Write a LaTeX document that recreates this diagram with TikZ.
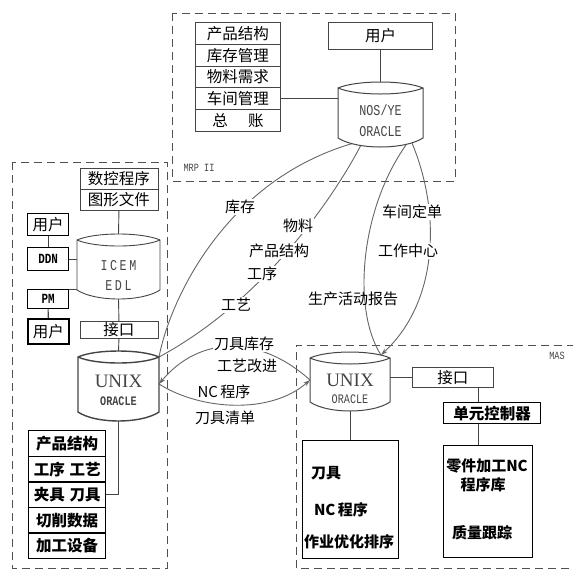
\documentclass[tikz,border=0pt]{standalone}
\usepackage{fontspec}
\setmainfont{Noto Sans CJK SC}
\newfontfamily\monon[FakeStretch=0.78]{Liberation Mono}
\newfontfamily\serifl{Liberation Serif}
\usetikzlibrary{arrows.meta}
\definecolor{ln}{HTML}{454545}
\definecolor{cv}{HTML}{666666}
\definecolor{dsh}{HTML}{505050}
\tikzset{
  cell/.style={draw=ln, line width=0.9pt, inner sep=0pt, anchor=north west, font=\fontsize{15.5}{16}\selectfont},
  boldcell/.style={cell, draw=black, line width=1.4pt, font=\fontsize{15.5}{16}\selectfont\bfseries},
  frame/.style={draw=dsh, line width=1pt, dash pattern=on 8pt off 5pt},
  link/.style={draw=ln, line width=0.9pt},
  flow/.style={draw=cv, line width=0.9pt},
  lab/.style={fill=white, inner sep=1pt, font=\fontsize{15}{15}\selectfont},
  labn/.style={inner sep=1pt, font=\fontsize{15}{15}\selectfont},
  txt/.style={inner sep=0pt, font=\fontsize{15}{15}\selectfont},
  mono/.style={inner sep=0pt, text=ln, font=\fontsize{15}{15}\selectfont\monon},
  uni/.style={inner sep=0pt, text=ln, font=\fontsize{19}{19}\selectfont\serifl},
  tip/.style={-{Stealth[length=7pt,width=4.5pt]}},
}
\newcommand\dbcyl[6]{%
  \pgfmathsetmacro\cyXa{#1+(#2-#1)*0.22}%
  \pgfmathsetmacro\cyXb{#1+(#2-#1)*0.78}%
  \pgfmathsetmacro\cyXm{(#1+#2)/2}%
  \pgfmathsetmacro\cyYu{#3-8}%
  \pgfmathsetmacro\cyYl{#3+8}%
  \pgfmathsetmacro\cyYb{#4+12}%
  \pgfmathsetmacro\cyYm{(#3+#4)/2}%
  \filldraw[fill=white, draw=ln, line width=#6] (#1,#3) .. controls (\cyXa,\cyYu) and (\cyXb,\cyYu) .. (#2,#3) -- (#2,#4) .. controls (\cyXb,\cyYb) and (\cyXa,\cyYb) .. (#1,#4) -- cycle;
  \draw[draw=ln, line width=#6] (#1,#3) .. controls (\cyXa,\cyYl) and (\cyXb,\cyYl) .. (#2,#3);
  \coordinate (#5-top) at (\cyXm,#3-6);
  \coordinate (#5-bot) at (\cyXm,#4+9);
  \coordinate (#5-w) at (#1,\cyYm);
  \coordinate (#5-e) at (#2,\cyYm);
  \coordinate (#5-ne) at (#2,#3);
}
\begin{document}
\begin{tikzpicture}[x=1pt,y=-1pt]
\useasboundingbox (0,0) rectangle (573,571);

% frames
\draw[frame] (172,13) rectangle (455,181);
\draw[frame] (12,162) rectangle (167,568);
\draw[frame] (575,345) -- (296,345) -- (296,568) -- (575,568);
\node[inner sep=0pt, text=ln, font=\fontsize{11}{11}\selectfont\monon] (mrp) at (199,168) {MRP II};
\node[inner sep=0pt, text=ln, font=\fontsize{11}{11}\selectfont\monon] (mas) at (557,356) {MAS};

% connector coordinates
\coordinate (nb1) at (354,143);
\coordinate (nb2) at (361,145);
\coordinate (nb3) at (406,145);
\coordinate (nb4) at (412,143);
\coordinate (ru1) at (381,355);
\coordinate (luni-ne) at (159,357);
\coordinate (luni-e) at (159,384);
\coordinate (runi-w) at (310,380);

% flows
\draw[flow] (luni-ne) .. controls (170,300) and (225,180) .. (nb1);
\draw[flow] (nb2) .. controls (335,195) and (265,300) .. (luni-ne);
\draw[flow] (nb3) .. controls (360,210) and (352,310) .. (ru1);
\draw[flow,tip] (nb4) .. controls (440,210) and (440,300) .. (ru1);
\draw[flow,tip] (runi-w) .. controls (260,335) and (200,335) .. (luni-e);
\draw[flow,tip] (luni-e) .. controls (200,410) and (270,415) .. (runi-w);

% flow labels
\node[lab] (l1) at (240,207) {库存};
\node[lab] (l2) at (298,226) {物料};
\node[lab] (l3) at (279,251) {产品结构};
\node[lab] (l4) at (262,274) {工序};
\node[lab] (l5) at (236,305) {工艺};
\node[lab] (l6) at (412,212) {车间定单};
\node[lab] (l7) at (408,251) {工作中心};
\node[labn] (l8) at (353,299) {生产活动报告};
\node[lab] (l9) at (244,344) {刀具库存};
\node[lab] (l10) at (247,366) {工艺改进};
\node[labn] (l11) at (224,392) {NC\,程序};
\node[labn] (l12) at (225,418) {刀具清单};

% MRP II
\node[cell, minimum width=85pt, minimum height=21.8pt] (m1) at (195,22) {产品结构};
\node[cell, minimum width=85pt, minimum height=21.8pt] (m2) at (195,43.8) {库存管理};
\node[cell, minimum width=85pt, minimum height=21.8pt] (m3) at (195,65.6) {物料需求};
\node[cell, minimum width=85pt, minimum height=21.8pt] (m4) at (195,87.4) {车间管理};
\node[cell, minimum width=85pt, minimum height=21.8pt] (m5) at (195,109.2) {总\hspace{1.3em}账};
\node[cell, anchor=center, minimum width=104pt, minimum height=27pt] (u0) at (380.5,35.5) {用户};
\dbcyl{338}{423}{88}{138}{nos}{1pt}
\node[mono] (nos1) at (380.5,110) {NOS/YE};
\node[mono] (nos2) at (380.5,132) {ORACLE};
\draw[link] (u0.south) -- (nos-top);
\draw[link] (m4.east) -- (m4.east -| nos-w);

% left system
\node[cell, minimum width=78pt, minimum height=21pt] (g1) at (79.5,168) {数控程序};
\node[cell, minimum width=78pt, minimum height=21pt] (g2) at (79.5,189) {图形文件};
\dbcyl{77}{160}{240}{290}{icem}{0.9pt}
\node[mono] (ic1) at (118.5,266) {I\,C\,E\,M};
\node[mono] (ic2) at (118.5,286) {E\,D\,L};
\draw[link] (g2.south) -- (icem-top);
\node[cell, line width=1.2pt, draw=black, minimum width=41pt, minimum height=22pt] (ua) at (27,213) {用户};
\node[cell, line width=1.2pt, draw=black, minimum width=41pt, minimum height=23pt, font=\fontsize{14}{14}\selectfont\monon\bfseries] (dd) at (27,247) {DDN};
\node[cell, line width=1.2pt, draw=black, minimum width=41pt, minimum height=19pt, font=\fontsize{14}{14}\selectfont\monon\bfseries] (pm) at (27,289) {PM};
\node[cell, line width=1.5pt, draw=black, minimum width=41pt, minimum height=25pt] (ub) at (27,318) {用户};
\draw[link, line width=1.2pt] (ua.south) -- (dd.north);
\draw[link, line width=1.2pt] (pm.south) -- (ub.north);
\draw[link] (dd.east) -- (dd.east -| icem-w);
\draw[link] (pm.north east) -- (pm.north east -| icem-w);
\node[cell, minimum width=78pt, minimum height=17pt] (jk1) at (79.5,321) {接口};
\dbcyl{78}{159}{357}{412}{luni}{1.4pt}
\node[uni] (lu1) at (118.5,381) {UNIX};
\node[mono, font=\fontsize{13}{13}\selectfont\monon\bfseries] (lu2) at (118.5,401) {ORACLE};
\draw[link] (icem-bot) -- (jk1.north);
\draw[link] (jk1.south) -- (luni-top);
\node[boldcell, minimum width=77pt, minimum height=25.6pt] (s1) at (28,430) {产品结构};
\node[boldcell, minimum width=77pt, minimum height=25.6pt] (s2) at (28,455.6) {工序\hspace{0.3em}工艺};
\node[boldcell, minimum width=77pt, minimum height=25.6pt] (s3) at (28,481.2) {夹具\hspace{0.3em}刀具};
\node[boldcell, minimum width=77pt, minimum height=25.6pt] (s4) at (28,506.8) {切削数据};
\node[boldcell, minimum width=77pt, minimum height=25.6pt] (s5) at (28,532.4) {加工设备};
\draw[link, line width=1.2pt] (luni-bot) |- (s3.east);

% MAS
\dbcyl{310}{390}{358}{402}{runi}{1pt}
\node[uni] (ru1t) at (350,380) {UNIX};
\node[mono, font=\fontsize{13}{13}\selectfont\monon] (ru2t) at (350,399) {ORACLE};
\node[cell, minimum width=81pt, minimum height=20pt] (jk2) at (412,367) {接口};
\draw[link, line width=1.2pt] (jk2.west) -- (jk2.west -| runi-e);
\node[boldcell, minimum width=97pt, minimum height=21pt] (dy) at (443,402) {单元控制器};
\node[cell, draw=black, line width=1.3pt, minimum width=89pt, minimum height=112pt] (pb) at (443,445) {};
\node[cell, draw=black, line width=1.3pt, minimum width=96pt, minimum height=118pt] (tb) at (302,440) {};
\coordinate (mascol) at (478,0);
\draw[link] (mascol |- jk2.south) -- (mascol |- dy.north);
\draw[link] (mascol |- dy.south) -- (mascol |- pb.north);
\draw[link] (runi-bot) -- (runi-bot |- tb.north);
\node[txt, font=\fontsize{15}{15}\selectfont\bfseries] (pt1) at (487,466) {零件加工NC};
\node[txt, font=\fontsize{15}{15}\selectfont\bfseries] (pt2) at (483,485) {程序库};
\node[txt, font=\fontsize{15}{15}\selectfont\bfseries] (pt3) at (482,533) {质量跟踪};
\node[txt, font=\fontsize{15}{15}\selectfont\bfseries] (tt1) at (326,473) {刀具};
\node[txt, font=\fontsize{15}{15}\selectfont\bfseries] (tt2) at (341,510) {NC\,程序};
\node[txt, font=\fontsize{15}{15}\selectfont\bfseries] (tt3) at (349,542) {作业优化排序};
\end{tikzpicture}
\end{document}
